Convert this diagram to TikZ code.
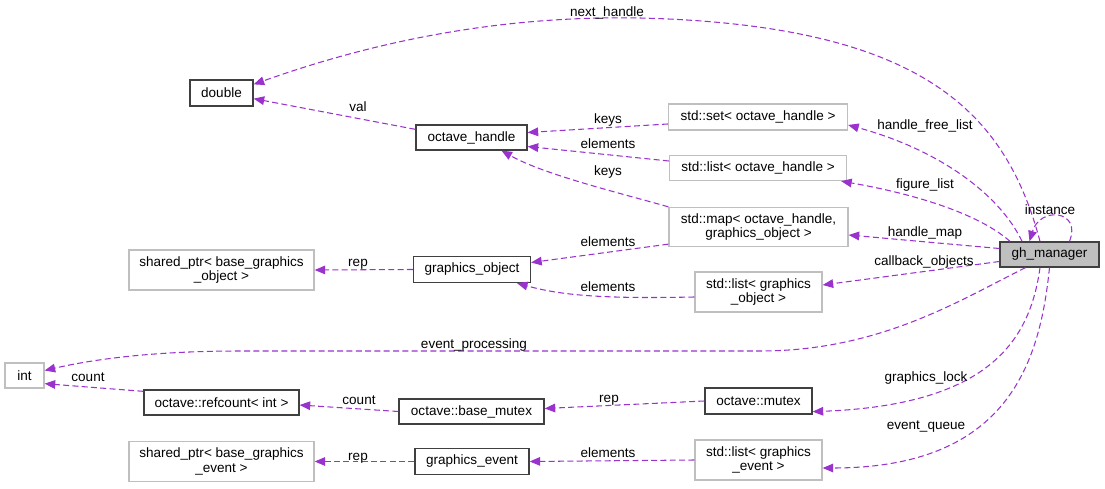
\documentclass[tikz,border=0pt]{standalone}
\usepackage{fontspec}
\setmainfont{Liberation Sans}
\usetikzlibrary{arrows.meta}
\definecolor{edgepurple}{HTML}{9A32CD}
\definecolor{boxgray}{HTML}{BFBFBF}

\begin{document}
\begin{tikzpicture}[x=0.02cm,y=-0.02cm,font=\fontsize{7.7}{8.2}\selectfont]
  \tikzstyle{cls}=[draw=black!75,line width=0.75pt,inner sep=0pt,align=center]
  \tikzstyle{ext}=[draw=boxgray,line width=0.75pt,inner sep=0pt,align=center]
  \tikzstyle{member}=[edgepurple,line width=0.6pt,dash pattern=on 3.4pt off 1.9pt,-{Triangle[length=6pt,width=4.9pt]}]
  \tikzstyle{lbl}=[inner sep=0pt,text height=1.55ex,text depth=0.4ex]
  \useasboundingbox (0,0) rectangle (1105,489);
  % classes
  \node[cls,minimum width=1.26cm,minimum height=0.52cm] (double) at (221.5,93) {double};
  \node[cls,minimum width=2.22cm,minimum height=0.5cm] (oh) at (471.5,137.5) {octave\_handle};
  \node[ext,minimum width=3.58cm,minimum height=0.52cm] (set) at (758,117) {std::set< octave\_handle >};
  \node[ext,minimum width=3.54cm,minimum height=0.5cm] (listoh) at (758,168) {std::list< octave\_handle >};
  \node[ext,minimum width=3.58cm,minimum height=0.78cm] (map) at (758.5,227) {std::map< octave\_handle,\\graphics\_object >};
  \node[cls,fill=boxgray,minimum width=1.98cm,minimum height=0.5cm] (gm) at (1049.5,254.5) {gh\_manager};
  \node[ext,minimum width=2.54cm,minimum height=0.8cm] (listgo) at (758.5,292) {std::list< graphics\\\_object >};
  \node[ext,minimum width=3.7cm,minimum height=0.8cm] (spgo) at (221.5,270) {shared\_ptr< base\_graphics\\\_object >};
  \node[cls,minimum width=2.34cm,minimum height=0.52cm] (go) at (472,269.5) {graphics\_object};
  \node[ext,minimum width=0.78cm,minimum height=0.5cm] (int) at (24.5,375.5) {int};
  \node[cls,minimum width=3.1cm,minimum height=0.5cm] (refcount) at (221.5,402.5) {octave::refcount< int >};
  \node[cls,minimum width=2.9cm,minimum height=0.5cm] (bmutex) at (471.5,411.5) {octave::base\_mutex};
  \node[cls,minimum width=2.14cm,minimum height=0.52cm] (mutex) at (758.5,401) {octave::mutex};
  \node[ext,minimum width=3.7cm,minimum height=0.8cm] (spev) at (221.5,461.5) {shared\_ptr< base\_graphics\\\_event >};
  \node[cls,minimum width=2.28cm,minimum height=0.52cm] (gev) at (472,461.5) {graphics\_event};
  \node[ext,minimum width=2.54cm,minimum height=0.8cm] (listev) at (758.5,460) {std::list< graphics\\\_event >};
  % members of gh_manager
  \draw[member] ([xshift=-0.19cm]gm.north) .. controls (1005,110) and (920,25) .. (640,18) .. controls (480,15) and (350,50) .. (double.15);
  \draw[member] ([xshift=-0.55cm]gm.north) .. controls (1000,195) and (940,150) .. ([yshift=-0.16cm]set.east);
  \draw[member] ([xshift=-0.79cm]gm.north) .. controls (980,215) and (920,195) .. ([xshift=-0.12cm]listoh.south east);
  \draw[member] ([yshift=0.12cm]gm.west) -- ([yshift=-0.16cm]map.east);
  \draw[member] ([yshift=-0.14cm]gm.west) -- ([yshift=0.14cm]listgo.east);
  \draw[member] ([xshift=0.4cm]gm.north) .. controls (1082,210) and (1040,206) .. ([xshift=-0.4cm]gm.north);
  \draw[member] ([xshift=-0.48cm]gm.south) .. controls (960,300) and (880,351) .. (760,351) -- (240,351) .. controls (150,351) and (90,360) .. ([yshift=0.1cm]int.east);
  \draw[member] ([xshift=-0.19cm]gm.south) .. controls (1030,340) and (990,405) .. ([yshift=0.06cm]mutex.south east);
  \draw[member] (gm.south) .. controls (1040,360) and (1010,468) .. ([yshift=-0.16cm]listev.east);
  % other members
  \draw[member] ([yshift=-0.1cm]oh.north west) -- ([yshift=0.16cm]double.south east);
  \draw[member] ([yshift=-0.14cm]set.west) -- ([yshift=0.1cm]oh.east);
  \draw[member] ([yshift=0.14cm]listoh.west) -- ([yshift=-0.18cm]oh.east);
  \draw[member] (map.north west) .. controls (620,193) and (545,175) .. ([xshift=0.6cm]oh.south);
  \draw[member] ([yshift=0.06cm]map.south west) -- ([yshift=0.14cm]go.east);
  \draw[member] ([yshift=-0.1cm]listgo.west) .. controls (600,299) and (560,295) .. ([xshift=0.9cm]go.south);
  \draw[member] (go.west) -- (spgo.east);
  \draw[member] ([yshift=-0.04cm]refcount.north west) -- ([yshift=0.1cm]int.south east);
  \draw[member] (bmutex.west) -- ([yshift=-0.05cm]refcount.east);
  \draw[member] (mutex.west) -- ([yshift=0.06cm]bmutex.east);
  \draw[member] (gev.west) -- (spev.east);
  \draw[member] (listev.west) -- (gev.east);
  % labels
  \node[lbl] (lnext) at (607,11) {next\_handle};
  \node[lbl] (lval) at (358,106) {val};
  \node[lbl] (lkeysa) at (608,118) {keys};
  \node[lbl] (lelema) at (608,143) {elements};
  \node[lbl] (lkeysb) at (608,170) {keys};
  \node[lbl] (lelemb) at (608,241) {elements};
  \node[lbl] (lelemc) at (608,286) {elements};
  \node[lbl] (lrepa) at (358,261) {rep};
  \node[lbl] (lfree) at (925,124) {handle\_free\_list};
  \node[lbl] (lfig) at (925,183) {figure\_list};
  \node[lbl] (linst) at (1050,209) {instance};
  \node[lbl] (lmap) at (925,231) {handle\_map};
  \node[lbl] (lcb) at (924,260) {callback\_objects};
  \node[lbl] (levp) at (474,343) {event\_processing};
  \node[lbl] (lcounta) at (88,376) {count};
  \node[lbl] (lcountb) at (359,399) {count};
  \node[lbl] (lrepb) at (609,397) {rep};
  \node[lbl] (llock) at (926,376) {graphics\_lock};
  \node[lbl] (lqueue) at (926,424) {event\_queue};
  \node[lbl] (lrepc) at (358,455) {rep};
  \node[lbl] (lelemd) at (608,452) {elements};
\end{tikzpicture}
\end{document}
